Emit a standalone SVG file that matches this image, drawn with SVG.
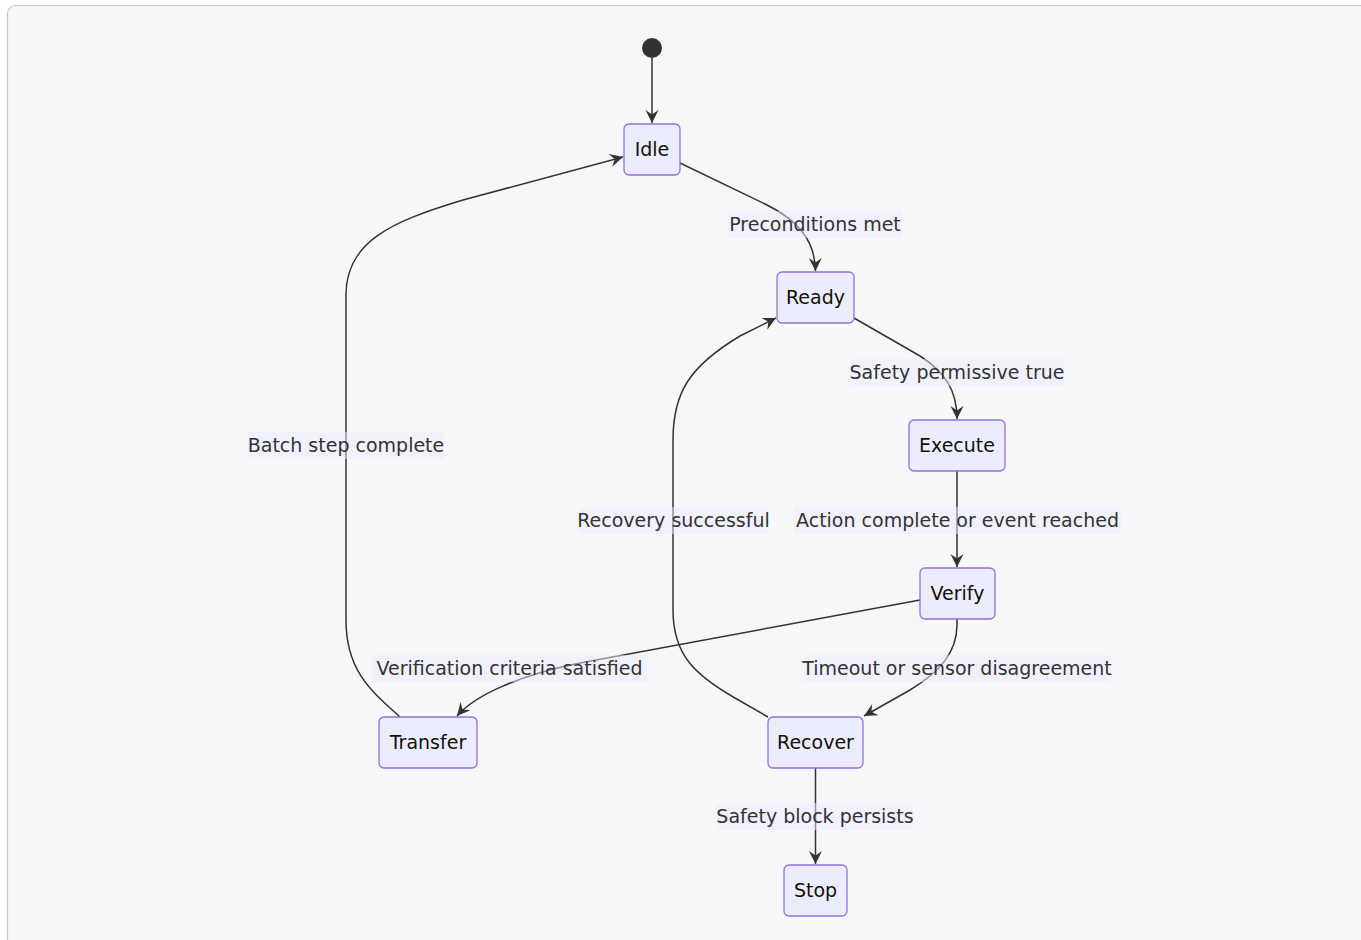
<svg xmlns="http://www.w3.org/2000/svg" width="1361" height="940" viewBox="0 0 1361 940">
  <style>
    .node rect { fill: #ECECFF; stroke: #9370DB; stroke-width: 1.3; }
    .node text { font-family: "DejaVu Sans", Verdana, sans-serif; font-size: 19px; fill: #131300; text-anchor: middle; dominant-baseline: central; }
    .edge { fill: none; stroke: #333333; stroke-width: 1.5; marker-end: url(#arrow); }
    .lbl rect { fill: #ECECFF; fill-opacity: 0.5; }
    .lbl text { font-family: "DejaVu Sans", Verdana, sans-serif; font-size: 19px; fill: #333333; text-anchor: middle; dominant-baseline: central; }
  </style>
  <defs>
    <marker id="arrow" viewBox="-14 -8 15 16" refX="0" refY="0" markerWidth="15" markerHeight="16" markerUnits="userSpaceOnUse" orient="auto">
      <path d="M0,0 L-13,-6.5 L-8.5,0 L-13,6.5 z" fill="#333333"/>
    </marker>
  </defs>

  <!-- canvas frame -->
  <rect x="7.5" y="5.5" width="1360" height="960" rx="8" fill="#F6F7F9" stroke="#C3C8D0" stroke-width="1.2"/>

  <!-- transitions -->
  <g id="connectors">
    <path class="edge" d="M652,58 L652,123"/>
    <path class="edge" d="M680,163 L765,204 C800,221 815,242 815.5,271"/>
    <path class="edge" d="M854,318 L920,356 C945,372 957,390 957,419"/>
    <path class="edge" d="M957,471 L957,567"/>
    <path class="edge" d="M920,600 L580,663 C520,675 475,695 457,716"/>
    <path class="edge" d="M957,619 L957,625 C957,652 940,672 910,690 L864,716"/>
    <path class="edge" d="M768,717 L735,698 C695,675 673,655 673,610 L673,440 C673,392 690,366 740,336 L776,318"/>
    <path class="edge" d="M400,717 C370,690 346,670 346,620 L346,295 C346,242 390,222 463,200 L623,157"/>
    <path class="edge" d="M815.5,768 L815.5,864"/>
  </g>

  <!-- transition labels -->
  <g id="edge-labels">
    <g class="lbl"><rect x="728" y="211" width="174" height="27"/><text x="815" y="224">Preconditions met</text></g>
    <g class="lbl"><rect x="850" y="359" width="214" height="27"/><text x="957" y="372">Safety permissive true</text></g>
    <g class="lbl"><rect x="248" y="432" width="196" height="27"/><text x="346" y="445">Batch step complete</text></g>
    <g class="lbl"><rect x="579" y="507" width="189" height="27"/><text x="673.5" y="520">Recovery successful</text></g>
    <g class="lbl"><rect x="794" y="507" width="327" height="27"/><text x="957.5" y="520">Action complete or event reached</text></g>
    <g class="lbl"><rect x="372" y="655" width="275" height="27"/><text x="509.5" y="668">Verification criteria satisfied</text></g>
    <g class="lbl"><rect x="804" y="655" width="306" height="27"/><text x="957" y="668">Timeout or sensor disagreement</text></g>
    <g class="lbl"><rect x="717" y="803" width="196" height="27"/><text x="815" y="816">Safety block persists</text></g>
  </g>

  <!-- states -->
  <g id="start"><circle cx="652" cy="48" r="10" fill="#333333"/></g>
  <g id="Idle" class="node"><rect x="624" y="124" width="56" height="51" rx="5"/><text x="652" y="149">Idle</text></g>
  <g id="Ready" class="node"><rect x="777" y="272" width="77" height="51" rx="5"/><text x="815.5" y="297">Ready</text></g>
  <g id="Execute" class="node"><rect x="909" y="420" width="96" height="51" rx="5"/><text x="957" y="445">Execute</text></g>
  <g id="Verify" class="node"><rect x="920" y="568" width="75" height="51" rx="5"/><text x="957.5" y="593">Verify</text></g>
  <g id="Transfer" class="node"><rect x="379" y="717" width="98" height="51" rx="5"/><text x="428" y="742">Transfer</text></g>
  <g id="Recover" class="node"><rect x="768" y="717" width="95" height="51" rx="5"/><text x="815.5" y="742">Recover</text></g>
  <g id="Stop" class="node"><rect x="784" y="865" width="63" height="51" rx="5"/><text x="815.5" y="890">Stop</text></g>
</svg>
